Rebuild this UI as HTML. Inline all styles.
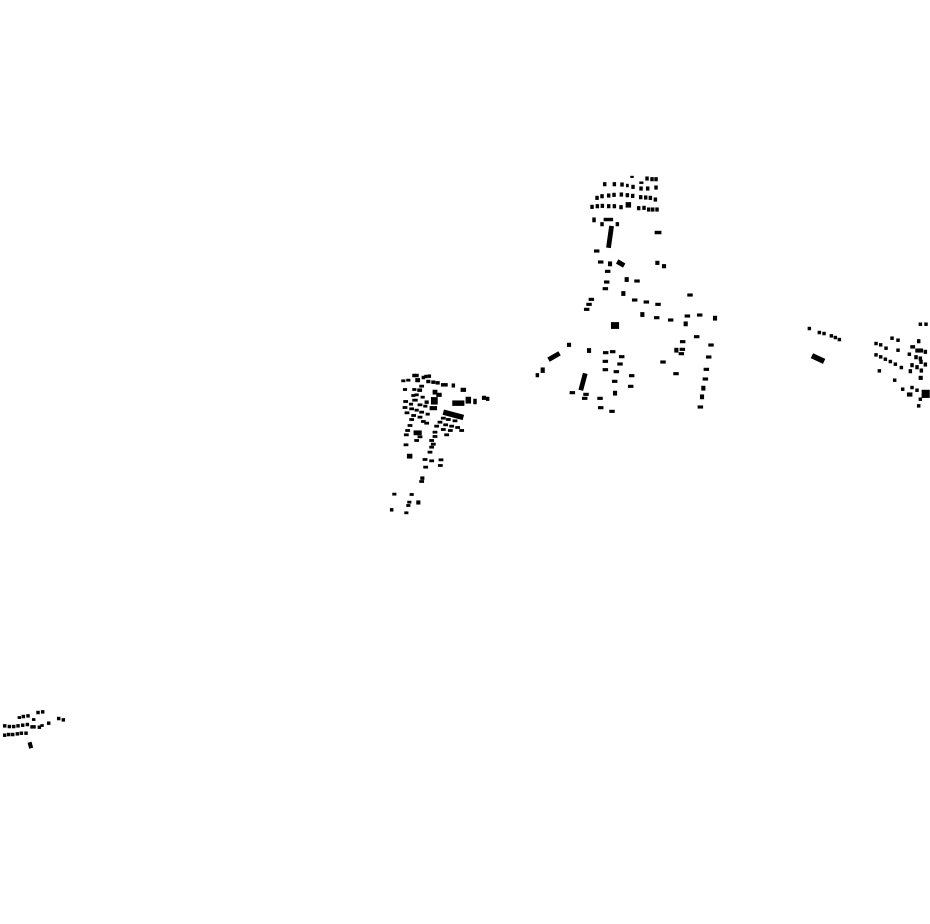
<!DOCTYPE html>
<html><head><meta charset="utf-8"><style>html,body{margin:0;padding:0;background:#fff;width:930px;height:924px;overflow:hidden}</style></head>
<body>
<svg width="930" height="924" viewBox="0 0 930 924" xmlns="http://www.w3.org/2000/svg">
<rect width="930" height="924" fill="#fff"/>
<g fill="#000" stroke="#000" stroke-width="2.4" transform="translate(2,2.5)">
<g transform="translate(528.7,168.7) scale(0.3333)">
<rect x="300" y="15" width="8" height="4"/><rect x="345" y="17" width="8" height="10"/><rect x="360" y="19" width="8" height="10"/><rect x="372" y="19" width="8" height="10"/>
<rect x="218" y="34" width="8" height="10"/><rect x="247" y="34" width="8" height="10"/><rect x="270" y="35" width="8" height="10"/><rect x="287" y="39" width="6" height="8"/><rect x="303" y="42" width="8" height="10"/><rect x="327" y="32" width="10" height="5"/><rect x="327" y="47" width="8" height="10"/><rect x="347" y="47" width="8" height="10"/><rect x="372" y="44" width="8" height="10"/>
<rect x="195" y="75" width="8" height="10"/><rect x="210" y="70" width="8" height="10"/><rect x="230" y="68" width="8" height="10"/><rect x="246" y="66" width="8" height="10"/><rect x="268" y="65" width="8" height="10"/><rect x="286" y="67" width="8" height="10"/><rect x="302" y="69" width="8" height="10"/><rect x="326" y="73" width="8" height="10"/><rect x="341" y="74" width="8" height="10"/><rect x="355" y="75" width="8" height="10"/><rect x="370" y="80" width="8" height="10"/>
<rect x="180" y="102" width="8" height="10"/><rect x="196" y="100" width="8" height="10"/><rect x="211" y="99" width="8" height="10"/><rect x="230" y="100" width="8" height="10"/><rect x="247" y="100" width="8" height="10"/><rect x="267" y="103" width="8" height="10"/><rect x="286" y="94" width="14" height="14"/><rect x="320" y="106" width="8" height="10"/><rect x="336" y="105" width="8" height="10"/><rect x="350" y="110" width="8" height="10"/><rect x="362" y="110" width="8" height="10"/><rect x="375" y="110" width="8" height="10"/>
<rect x="186" y="140" width="8" height="12"/><rect x="220" y="141" width="26" height="8"/><rect x="210" y="154" width="8" height="10"/><rect x="256" y="154" width="8" height="10"/><rect x="232" y="165" width="12" height="64" transform="rotate(8 238 197)"/><rect x="373" y="180" width="18" height="8"/>
<rect x="191" y="236" width="14" height="7"/><rect x="203" y="269" width="14" height="7"/><rect x="233" y="272" width="10" height="12"/><rect x="259" y="271" width="22" height="12" transform="rotate(30 270 277)"/><rect x="375" y="270" width="10" height="10"/><rect x="395" y="280" width="10" height="10"/>
<rect x="224" y="297" width="14" height="7"/><rect x="283" y="319" width="10" height="12"/><rect x="312" y="326" width="14" height="7"/><rect x="221" y="329" width="14" height="7"/><rect x="217" y="349" width="14" height="7"/><rect x="273" y="361" width="10" height="12"/><rect x="175" y="381" width="14" height="7"/><rect x="168" y="396" width="14" height="7"/><rect x="161" y="411" width="14" height="7"/><rect x="305" y="383" width="14" height="7"/><rect x="340" y="389" width="14" height="7"/><rect x="375" y="396" width="14" height="7"/><rect x="471" y="368" width="14" height="7"/>
<rect x="330" y="424" width="10" height="12"/><rect x="371" y="436" width="14" height="7"/><rect x="413" y="443" width="14" height="7"/><rect x="463" y="431" width="14" height="7"/><rect x="500" y="428" width="14" height="7"/><rect x="548" y="435" width="10" height="12"/><rect x="460" y="452" width="10" height="12"/>
<rect x="242" y="454" width="22" height="18"/><rect x="110" y="516" width="10" height="10"/><rect x="52" y="550" width="36" height="12" transform="rotate(-30 70 556)"/><rect x="170" y="532" width="10" height="12"/><rect x="218" y="541" width="14" height="7"/><rect x="239" y="538" width="14" height="7"/><rect x="266" y="553" width="14" height="7"/><rect x="31" y="590" width="10" height="14"/><rect x="16" y="607" width="8" height="10"/><rect x="217" y="567" width="14" height="7"/><rect x="261" y="575" width="14" height="7"/><rect x="217" y="592" width="14" height="7"/><rect x="250" y="598" width="14" height="7"/><rect x="296" y="610" width="14" height="7"/><rect x="151" y="607" width="12" height="50" transform="rotate(15 157 632)"/><rect x="245" y="627" width="14" height="7"/><rect x="293" y="642" width="14" height="7"/><rect x="248" y="660" width="10" height="12"/><rect x="118" y="661" width="14" height="7"/><rect x="159" y="666" width="14" height="7"/><rect x="155" y="678" width="14" height="7"/><rect x="201" y="678" width="14" height="7"/><rect x="203" y="706" width="14" height="7"/><rect x="237" y="717" width="14" height="7"/>
<rect x="491" y="493" width="14" height="7"/><rect x="449" y="508" width="14" height="7"/><rect x="432" y="531" width="10" height="12"/><rect x="448" y="531" width="14" height="7"/><rect x="445" y="544" width="14" height="7"/><rect x="534" y="518" width="14" height="7"/><rect x="527" y="554" width="14" height="7"/><rect x="390" y="569" width="14" height="7"/><rect x="429" y="604" width="14" height="7"/><rect x="520" y="591" width="14" height="7"/><rect x="517" y="620" width="14" height="7"/><rect x="513" y="645" width="10" height="12"/><rect x="509" y="671" width="10" height="12"/><rect x="502" y="704" width="14" height="7"/>
</g>
<g transform="translate(383,363) scale(0.3333)">
<rect x="90" y="26" width="10" height="8"/><rect x="83" y="26" width="8" height="8"/><rect x="111" y="32" width="8" height="8"/><rect x="119" y="29" width="8" height="8"/><rect x="129" y="28" width="8" height="8"/><rect x="50" y="43" width="10" height="6"/><rect x="65" y="41" width="10" height="6"/><rect x="92" y="39" width="12" height="10"/><rect x="125" y="44" width="10" height="8"/><rect x="140" y="46" width="10" height="8"/><rect x="153" y="48" width="10" height="8"/><rect x="169" y="54" width="18" height="8"/><rect x="201" y="55" width="8" height="10"/><rect x="228" y="68" width="14" height="10"/><rect x="55" y="69" width="10" height="6"/><rect x="83" y="69" width="10" height="6"/><rect x="98" y="70" width="12" height="8"/><rect x="104" y="59" width="12" height="6"/><rect x="144" y="74" width="12" height="12"/><rect x="155" y="83" width="14" height="10"/><rect x="90" y="85" width="10" height="6"/><rect x="80" y="87" width="10" height="6"/><rect x="108" y="92" width="10" height="6"/><rect x="83" y="101" width="14" height="6"/><rect x="56" y="105" width="12" height="6"/><rect x="120" y="106" width="10" height="8"/><rect x="139" y="96" width="18" height="20"/><rect x="203" y="106" width="34" height="14"/><rect x="243" y="95" width="14" height="18"/><rect x="266" y="101" width="8" height="14"/><rect x="292" y="92" width="10" height="10"/><rect x="304" y="95" width="8" height="10"/><rect x="73" y="113" width="10" height="6"/><rect x="99" y="115" width="12" height="6"/><rect x="116" y="119" width="10" height="6"/><rect x="135" y="123" width="20" height="10"/><rect x="54" y="123" width="12" height="6"/><rect x="74" y="127" width="12" height="6"/><rect x="90" y="131" width="10" height="6"/><rect x="60" y="139" width="12" height="6"/><rect x="104" y="137" width="12" height="6"/><rect x="123" y="143" width="10" height="6"/><rect x="175" y="141" width="60" height="14" transform="rotate(15 205 148)"/><rect x="80" y="147" width="12" height="6"/><rect x="99" y="152" width="12" height="6"/><rect x="169" y="155" width="12" height="6"/><rect x="184" y="159" width="12" height="6"/><rect x="204" y="163" width="12" height="6"/><rect x="74" y="159" width="12" height="6"/><rect x="109" y="165" width="12" height="6"/><rect x="119" y="170" width="12" height="6"/><rect x="159" y="167" width="12" height="6"/><rect x="176" y="175" width="12" height="6"/><rect x="194" y="179" width="12" height="6"/><rect x="212" y="183" width="12" height="6"/><rect x="69" y="177" width="12" height="6"/><rect x="149" y="179" width="12" height="6"/><rect x="169" y="189" width="12" height="6"/><rect x="190" y="192" width="12" height="6"/><rect x="224" y="192" width="12" height="6"/><rect x="62" y="192" width="12" height="6"/><rect x="87" y="196" width="22" height="12"/><rect x="144" y="197" width="12" height="6"/><rect x="179" y="205" width="12" height="6"/><rect x="58" y="205" width="12" height="6"/><rect x="99" y="211" width="12" height="6"/><rect x="144" y="210" width="12" height="6"/><rect x="89" y="222" width="12" height="6"/><rect x="134" y="222" width="12" height="6"/><rect x="139" y="233" width="12" height="6"/><rect x="57" y="235" width="12" height="6"/><rect x="134" y="242" width="12" height="6"/><rect x="129" y="257" width="12" height="6"/><rect x="67" y="266" width="14" height="12"/><rect x="114" y="279" width="12" height="6"/><rect x="134" y="283" width="12" height="6"/><rect x="162" y="280" width="12" height="6"/><rect x="116" y="302" width="12" height="6"/><rect x="160" y="297" width="12" height="6"/><rect x="107" y="334" width="10" height="8"/><rect x="104" y="345" width="12" height="6"/><rect x="23" y="383" width="10" height="6"/><rect x="75" y="384" width="10" height="6"/><rect x="95" y="406" width="10" height="10"/><rect x="68" y="407" width="10" height="6"/><rect x="65" y="417" width="10" height="6"/><rect x="16" y="429" width="8" height="8"/><rect x="59" y="439" width="10" height="6"/>
</g>
<g transform="translate(798.7,313.7) scale(0.3333)">
<rect x="22" y="33" width="8" height="8"/><rect x="52" y="45" width="8" height="8"/><rect x="66" y="48" width="8" height="8"/><rect x="88" y="55" width="8" height="8"/><rect x="100" y="60" width="8" height="8"/><rect x="112" y="66" width="8" height="8"/><rect x="33" y="120" width="38" height="14" transform="rotate(25 52 127)"/><rect x="355" y="20" width="8" height="8"/><rect x="372" y="20" width="8" height="8"/><rect x="270" y="62" width="8" height="8"/><rect x="288" y="68" width="8" height="8"/><rect x="350" y="70" width="8" height="10"/><rect x="222" y="78" width="8" height="8"/><rect x="236" y="82" width="8" height="8"/><rect x="252" y="92" width="8" height="8"/><rect x="288" y="98" width="8" height="8"/><rect x="330" y="88" width="12" height="8"/><rect x="345" y="98" width="12" height="10"/><rect x="358" y="98" width="8" height="10"/><rect x="370" y="102" width="8" height="10"/><rect x="222" y="112" width="8" height="8"/><rect x="236" y="118" width="8" height="8"/><rect x="250" y="125" width="8" height="8"/><rect x="265" y="132" width="8" height="8"/><rect x="280" y="140" width="8" height="8"/><rect x="298" y="150" width="8" height="8"/><rect x="322" y="110" width="8" height="8"/><rect x="342" y="118" width="8" height="10"/><rect x="355" y="122" width="8" height="10"/><rect x="330" y="142" width="8" height="10"/><rect x="345" y="148" width="8" height="10"/><rect x="357" y="132" width="8" height="10"/><rect x="370" y="140" width="8" height="10"/><rect x="232" y="160" width="8" height="8"/><rect x="325" y="160" width="8" height="10"/><rect x="358" y="158" width="8" height="10"/><rect x="355" y="180" width="10" height="10"/><rect x="278" y="188" width="8" height="8"/><rect x="302" y="215" width="8" height="8"/><rect x="330" y="210" width="8" height="8"/><rect x="345" y="218" width="8" height="8"/><rect x="320" y="230" width="14" height="10"/><rect x="364" y="222" width="22" height="22"/><rect x="355" y="245" width="8" height="8"/><rect x="350" y="265" width="8" height="8"/>
</g>
<g transform="translate(-1.3,698.7) scale(0.3333)">
<rect x="52" y="46" width="8" height="6"/><rect x="64" y="42" width="8" height="8"/><rect x="78" y="40" width="8" height="8"/><rect x="108" y="30" width="8" height="8"/><rect x="122" y="28" width="8" height="8"/><rect x="95" y="52" width="8" height="6"/><rect x="8" y="70" width="8" height="8"/><rect x="22" y="72" width="8" height="8"/><rect x="35" y="72" width="8" height="8"/><rect x="48" y="70" width="8" height="8"/><rect x="62" y="68" width="8" height="8"/><rect x="76" y="66" width="8" height="8"/><rect x="90" y="73" width="14" height="8"/><rect x="112" y="74" width="8" height="8"/><rect x="120" y="70" width="8" height="6"/><rect x="140" y="62" width="8" height="8"/><rect x="170" y="48" width="8" height="8"/><rect x="184" y="52" width="8" height="8"/><rect x="8" y="98" width="8" height="8"/><rect x="20" y="96" width="8" height="8"/><rect x="32" y="96" width="8" height="8"/><rect x="46" y="94" width="8" height="8"/><rect x="58" y="92" width="8" height="8"/><rect x="72" y="92" width="8" height="8"/><rect x="84" y="124" width="10" height="16" transform="rotate(-15 89 132)"/>
</g>
</g>
</svg>
</body></html>
